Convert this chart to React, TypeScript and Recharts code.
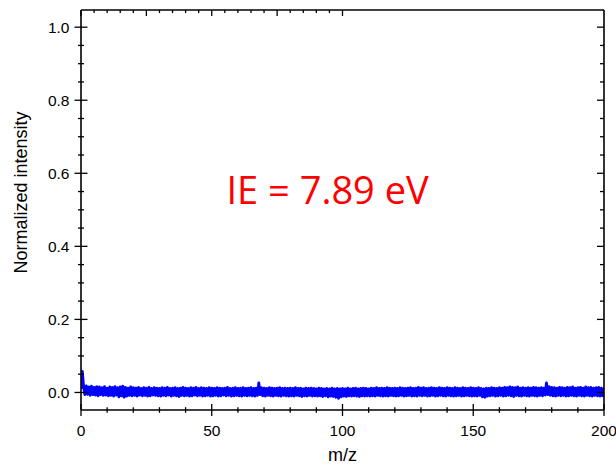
import React from 'react';
import { LineChart, Line, XAxis, YAxis, ReferenceDot } from 'recharts';

// Spectrum sampled every 0.5 m/z from 0 to 200
const mzStart = 0;
const mzStep = 0.5;
const intensity: number[] = [
  0.010,0.058,0.016,-0.006,0.018,-0.005,0.015,-0.008,0.017,-0.006,0.014,-0.007,0.016,-0.009,0.015,-0.006,0.013,-0.008,0.016,-0.007,
  0.012,-0.009,0.015,-0.008,0.014,-0.010,0.016,-0.007,0.013,-0.012,0.015,-0.009,0.017,-0.013,0.014,-0.010,0.012,-0.008,0.015,-0.009,
  0.013,-0.008,0.012,-0.010,0.014,-0.007,0.011,-0.009,0.013,-0.008,0.012,-0.010,0.014,-0.009,0.011,-0.007,0.013,-0.008,0.012,-0.009,
  0.011,-0.010,0.013,-0.008,0.012,-0.009,0.014,-0.007,0.011,-0.010,0.012,-0.008,0.013,-0.009,0.011,-0.011,0.012,-0.008,0.014,-0.009,
  0.012,-0.008,0.011,-0.010,0.013,-0.009,0.012,-0.007,0.014,-0.009,0.011,-0.008,0.013,-0.010,0.012,-0.009,0.011,-0.008,0.013,-0.010,
  0.012,-0.009,0.011,-0.008,0.013,-0.010,0.012,-0.009,0.011,-0.007,0.012,-0.009,0.014,-0.008,0.011,-0.010,0.012,-0.009,0.013,-0.008,
  0.011,-0.009,0.012,-0.010,0.013,-0.008,0.011,-0.009,0.012,-0.008,0.013,-0.009,0.011,-0.010,0.012,-0.008,0.026,-0.006,0.013,-0.009,
  0.012,-0.010,0.011,-0.008,0.013,-0.009,0.012,-0.010,0.011,-0.008,0.012,-0.009,0.013,-0.010,0.011,-0.008,0.012,-0.009,0.011,-0.010,
  0.012,-0.009,0.011,-0.010,0.013,-0.008,0.011,-0.009,0.012,-0.011,0.010,-0.009,0.012,-0.010,0.011,-0.008,0.012,-0.010,0.011,-0.009,
  0.010,-0.010,0.012,-0.009,0.011,-0.011,0.010,-0.009,0.011,-0.012,0.010,-0.010,0.012,-0.011,0.010,-0.013,0.011,-0.016,0.010,-0.012,
  0.011,-0.010,0.010,-0.011,0.012,-0.009,0.010,-0.010,0.011,-0.009,0.012,-0.010,0.010,-0.011,0.011,-0.009,0.012,-0.010,0.011,-0.009,
  0.010,-0.010,0.012,-0.009,0.011,-0.010,0.013,-0.008,0.011,-0.009,0.012,-0.010,0.011,-0.009,0.013,-0.010,0.012,-0.008,0.011,-0.009,
  0.012,-0.010,0.011,-0.009,0.013,-0.008,0.012,-0.010,0.011,-0.009,0.012,-0.008,0.013,-0.010,0.011,-0.009,0.012,-0.010,0.014,-0.008,
  0.012,-0.009,0.013,-0.008,0.011,-0.010,0.012,-0.009,0.013,-0.008,0.012,-0.010,0.011,-0.009,0.013,-0.008,0.012,-0.009,0.011,-0.010,
  0.013,-0.008,0.012,-0.009,0.011,-0.010,0.013,-0.009,0.012,-0.008,0.011,-0.010,0.013,-0.009,0.012,-0.008,0.011,-0.009,0.013,-0.010,
  0.012,-0.009,0.011,-0.010,0.013,-0.008,0.011,-0.012,0.010,-0.013,0.012,-0.010,0.011,-0.009,0.013,-0.008,0.012,-0.010,0.011,-0.009,
  0.013,-0.008,0.012,-0.010,0.014,-0.009,0.013,-0.008,0.015,-0.009,0.014,-0.011,0.013,-0.008,0.015,-0.009,0.012,-0.010,0.013,-0.008,
  0.012,-0.009,0.013,-0.010,0.012,-0.008,0.014,-0.009,0.013,-0.010,0.012,-0.008,0.013,-0.009,0.012,-0.007,0.026,-0.006,0.016,-0.008,
  0.014,-0.009,0.013,-0.010,0.012,-0.008,0.014,-0.009,0.013,-0.008,0.012,-0.010,0.014,-0.009,0.013,-0.008,0.015,-0.009,0.012,-0.010,
  0.013,-0.008,0.014,-0.009,0.012,-0.010,0.015,-0.008,0.013,-0.009,0.014,-0.010,0.012,-0.008,0.013,-0.009,0.014,-0.010,0.012,-0.009,
  0.013,
];

const xMajorTicks = [0, 50, 100, 150, 200];
const xMinorTicks = [10, 20, 30, 40, 60, 70, 80, 90, 110, 120, 130, 140, 160, 170, 180, 190];
const yMajorTicks = [0, 0.2, 0.4, 0.6, 0.8, 1.0];
const yMinorTicks = [0.05, 0.1, 0.15, 0.25, 0.3, 0.35, 0.45, 0.5, 0.55, 0.65, 0.7, 0.75, 0.85, 0.9, 0.95];

const xDomain: [number, number] = [0, 200];
const yDomain: [number, number] = [-0.048, 1.047];

const annotation = { text: 'IE = 7.89 eV', mz: 94.3, y: 0.553 };

const data = intensity.map((v, i) => ({ mz: mzStart + i * mzStep, v }));

const allX = [...xMajorTicks, ...xMinorTicks].sort((a, b) => a - b);
const allY = [...yMajorTicks, ...yMinorTicks].sort((a, b) => a - b);

const isMajor = (list: number[], v: number) => list.some((m) => Math.abs(m - v) < 1e-9);

const FONT = '"Liberation Sans", Arial, sans-serif';
const TICK_FS = 15.5;
const TICK_W = 1.3;

const BottomTick = (p: any) => {
  const { x, y, payload } = p;
  const major = isMajor(xMajorTicks, payload.value);
  const len = major ? 6 : 2.8;
  return (
    <g>
      <line x1={x} x2={x} y1={y - len} y2={y + len} stroke="#000" strokeWidth={TICK_W} />
      {major && (
        <text x={x} y={y + 26} textAnchor="middle" fontSize={TICK_FS} fontFamily={FONT} fill="#000">
          {payload.value}
        </text>
      )}
    </g>
  );
};

const TopTick = (p: any) => {
  const { x, y, payload } = p;
  const major = isMajor(xMajorTicks, payload.value);
  const len = major ? 6 : 3;
  return <line x1={x} x2={x} y1={y} y2={y + len} stroke="#000" strokeWidth={TICK_W} />;
};

const LeftTick = (p: any) => {
  const { x, y, payload } = p;
  const major = isMajor(yMajorTicks, payload.value);
  const len = major ? 6.5 : 3;
  return (
    <g>
      <line x1={x - len} x2={x + len} y1={y} y2={y} stroke="#000" strokeWidth={TICK_W} />
      {major && (
        <text x={x - 11.5} y={y} dy="0.36em" textAnchor="end" fontSize={TICK_FS} fontFamily={FONT} fill="#000">
          {Number(payload.value).toFixed(1)}
        </text>
      )}
    </g>
  );
};

const RightTick = (p: any) => {
  const { x, y, payload } = p;
  const major = isMajor(yMajorTicks, payload.value);
  const len = major ? 7 : 4;
  return <line x1={x - len} x2={x} y1={y} y2={y} stroke="#000" strokeWidth={TICK_W} />;
};

const YTitle = () => {
  const cx = 21;
  const cy = 192.5;
  return (
    <text
      x={cx}
      y={cy}
      transform={`rotate(-90, ${cx}, ${cy})`}
      textAnchor="middle"
      dominantBaseline="central"
      fontSize={18}
      fontFamily={FONT}
      fill="#000"
    >
      Normalized intensity
    </text>
  );
};

const XTitle = (p: any) => {
  const vb = p.viewBox || { x: 81, y: 410, width: 523, height: 56 };
  return (
    <text x={vb.x + vb.width / 2} y={vb.y + 51} textAnchor="middle" fontSize={18} fontFamily={FONT} fill="#000">
      m/z
    </text>
  );
};

const IELabel = (p: any) => {
  const vb = p.viewBox || { x: 0, y: 0 };
  const cx = vb.x + (vb.width || 0) / 2;
  const cy = vb.y + (vb.height || 0) / 2;
  return (
    <text x={cx} y={cy} dy="0.36em" textAnchor="middle" fontSize={38} fontFamily='"Open Sans", "Noto Sans", sans-serif' fill="#ff0000">
      {annotation.text}
    </text>
  );
};

export default function App() {
  return (
    <div style={{ position: 'absolute', left: 0, top: 0, fontFamily: FONT, background: '#fff' }}>
      <LineChart width={616} height={466} data={data} margin={{ top: 10, right: 12, bottom: 0, left: 0 }}>
        <XAxis
          dataKey="mz"
          type="number"
          domain={xDomain}
          allowDataOverflow
          ticks={allX}
          interval={0}
          tickSize={0}
          tickMargin={0}
          tickLine={false}
          tick={<BottomTick />}
          height={56}
          axisLine={{ stroke: '#000', strokeWidth: 1.6 }}
          label={<XTitle />}
        />
        <XAxis
          xAxisId="top"
          orientation="top"
          mirror
          type="number"
          domain={xDomain}
          allowDataOverflow
          ticks={allX}
          interval={0}
          tickSize={0}
          tickMargin={0}
          tickLine={false}
          tick={<TopTick />}
          axisLine={{ stroke: '#000', strokeWidth: 1.6 }}
        />
        <YAxis
          type="number"
          domain={yDomain}
          allowDataOverflow
          ticks={allY}
          interval={0}
          tickSize={0}
          tickMargin={0}
          tickLine={false}
          tick={<LeftTick />}
          width={81}
          axisLine={{ stroke: '#000', strokeWidth: 1.6 }}
          label={<YTitle />}
        />
        <YAxis
          yAxisId="right"
          orientation="right"
          mirror
          type="number"
          domain={yDomain}
          allowDataOverflow
          ticks={allY}
          interval={0}
          tickSize={0}
          tickMargin={0}
          tickLine={false}
          tick={<RightTick />}
          axisLine={{ stroke: '#000', strokeWidth: 1.6 }}
        />
        <Line
          type="linear"
          dataKey="v"
          stroke="#0000ff"
          strokeWidth={2.8}
          strokeLinejoin="round"
          dot={false}
          isAnimationActive={false}
        />
        <ReferenceDot x={annotation.mz} y={annotation.y} r={0} fill="none" stroke="none" label={<IELabel />} />
      </LineChart>
    </div>
  );
}
